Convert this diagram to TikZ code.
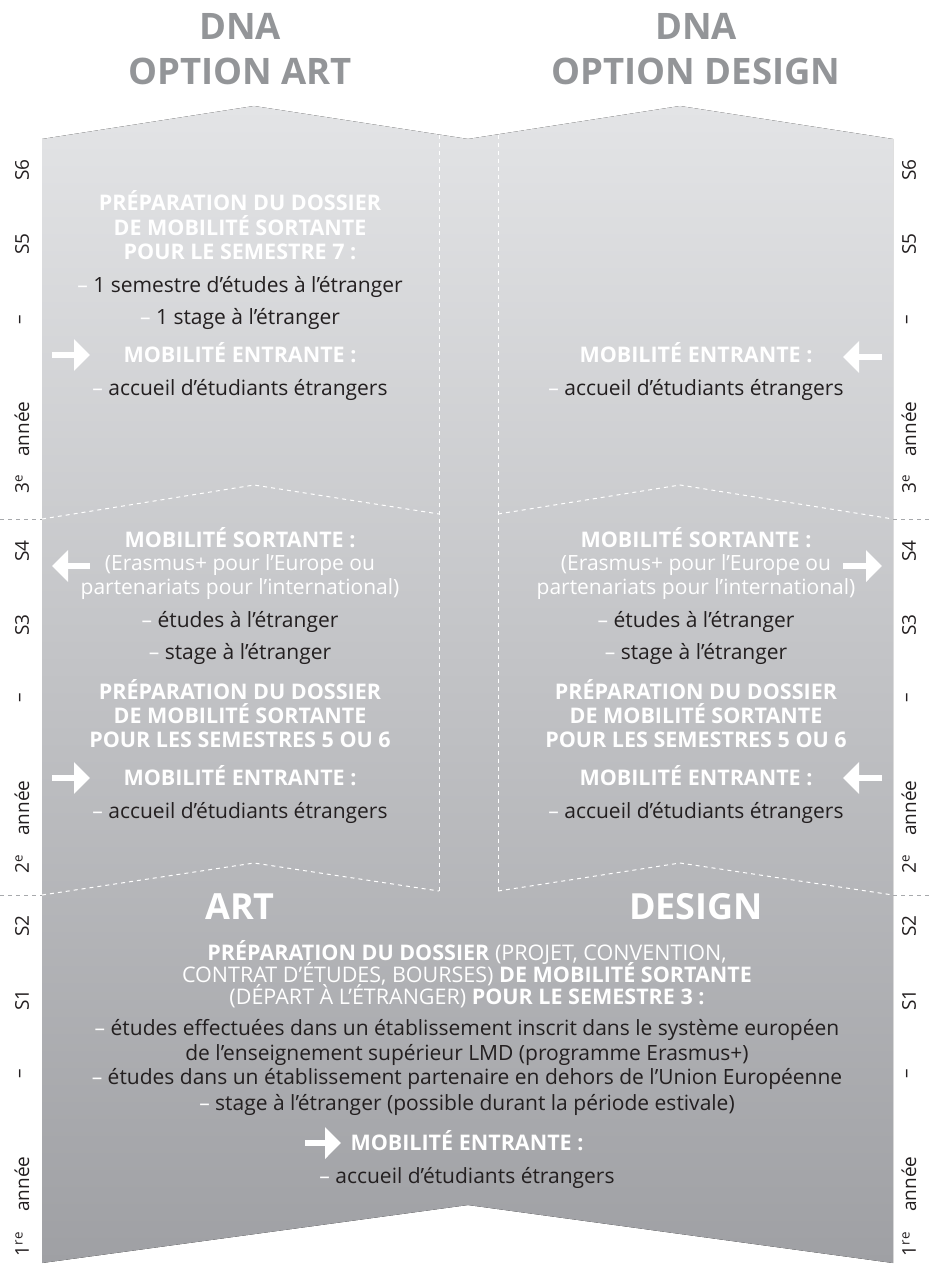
\documentclass[tikz,border=0pt]{standalone}
\usepackage{fontspec}
\setmainfont{Open Sans}
\usetikzlibrary{arrows.meta}
\definecolor{titlegray}{HTML}{939598}
\definecolor{ink}{HTML}{231F20}
\definecolor{paneltop}{HTML}{E3E4E6}
\definecolor{panelbot}{HTML}{9FA0A4}
\definecolor{axisdash}{HTML}{A7A9AC}
\newcommand{\wdash}{\textcolor{white}{–}}
\tikzset{
 dnatitle/.style={font=\fontsize{36.5}{40}\selectfont\bfseries, text=titlegray, anchor=base, inner sep=0pt},
 bigwhite/.style={font=\fontsize{36}{40}\selectfont\bfseries, text=white, anchor=base, inner sep=0pt},
 headtxt/.style={font=\fontsize{21.5}{24}\selectfont\bfseries, text=white, anchor=base, inner sep=0pt},
 mixtxt/.style={font=\fontsize{21.5}{24}\selectfont, text=white, anchor=base, inner sep=0pt},
 wtext/.style={font=\fontsize{21}{24}\selectfont, text=white, anchor=base, inner sep=0pt},
 bodytxt/.style={font=\fontsize{21}{24}\selectfont, text=ink, anchor=base, inner sep=0pt},
 axislbl/.style={font=\fontsize{19}{20}\selectfont, text=ink, rotate=90, inner sep=0pt},
 wdashed/.style={draw=white, line width=1pt, dash pattern=on 4pt off 4pt},
 gdashed/.style={draw=axisdash, line width=1pt, dash pattern=on 4pt off 4pt},
 warrow/.style={draw=white, line width=6.5pt, -{Triangle[length=16pt,width=31pt]}},
}
\begin{document}
\begin{tikzpicture}[x=1pt,y=-1pt]
\useasboundingbox (0,0) rectangle (929,1268);
% panel
\fill[top color=paneltop, bottom color=panelbot] (42,139) -- (254,106) -- (468,139) -- (680,106) -- (893,139) -- (893,1263) -- (468,1205) -- (42,1263) -- cycle;
% dashed separators
\draw[wdashed] (439,135) -- (439,891);
\draw[wdashed] (498,135) -- (498,891);
\draw[wdashed] (42,519) -- (254,485) -- (439,514);
\draw[wdashed] (498,514) -- (680,485) -- (893,519);
\draw[wdashed] (42,895) -- (254,863) -- (439,891);
\draw[wdashed] (498,891) -- (680,863) -- (893,895);
\draw[gdashed] (0,519) -- (42,519);
\draw[gdashed] (893,519) -- (929,519);
\draw[gdashed] (0,895) -- (42,895);
\draw[gdashed] (893,895) -- (929,895);
% titles
\node[dnatitle] (t1a) at (240,40) {DNA};
\node[dnatitle] (t1b) at (240,85) {OPTION ART};
\node[dnatitle] (t2a) at (696,40) {DNA};
\node[dnatitle] (t2b) at (696,85) {OPTION DESIGN};
% axis labels
\foreach \side/\xx in {L/22,R/909}{
 \node[axislbl] (\side s6) at (\xx,170) {S6};
 \node[axislbl] (\side s5) at (\xx,244) {S5};
 \node[axislbl] (\side d3) at (\xx,320) {–};
 \node[axislbl] (\side y3) at (\xx,429) {année};
 \node[axislbl] (\side n3) at (\xx,484) {3\textsuperscript{e}};
 \node[axislbl] (\side s4) at (\xx,551) {S4};
 \node[axislbl] (\side s3) at (\xx,625) {S3};
 \node[axislbl] (\side d2) at (\xx,698) {–};
 \node[axislbl] (\side y2) at (\xx,808) {année};
 \node[axislbl] (\side n2) at (\xx,864) {2\textsuperscript{e}};
 \node[axislbl] (\side s2) at (\xx,926) {S2};
 \node[axislbl] (\side s1) at (\xx,1000) {S1};
 \node[axislbl] (\side d1) at (\xx,1074) {–};
 \node[axislbl] (\side y1) at (\xx,1184) {année};
 \node[axislbl] (\side n1) at (\xx,1244) {1\textsuperscript{re}};
}
% ---- 3e annee, art
\node[headtxt] (a3h1) at (240,211) {PRÉPARATION DU DOSSIER};
\node[headtxt] (a3h2) at (240,235) {DE MOBILITÉ SORTANTE};
\node[headtxt] (a3h3) at (240,259) {POUR LE SEMESTRE 7 :};
\node[bodytxt] (a3b1) at (240,292) {\wdash\ 1 semestre d’études à l’étranger};
\node[bodytxt] (a3b2) at (240,324) {\wdash\ 1 stage à l’étranger};
\node[headtxt] (a3e) at (240,362) {MOBILITÉ ENTRANTE :};
\node[bodytxt] (a3a) at (240,395) {\wdash\ accueil d’étudiants étrangers};
\coordinate (a3p) at (52,355); \coordinate (a3q) at (90,355);
\draw[warrow] (a3p) -- (a3q);
% ---- 3e annee, design
\node[headtxt] (d3e) at (696,362) {MOBILITÉ ENTRANTE :};
\node[bodytxt] (d3a) at (696,395) {\wdash\ accueil d’étudiants étrangers};
\coordinate (d3p) at (882,357); \coordinate (d3q) at (843,357);
\draw[warrow] (d3p) -- (d3q);
% ---- 2e annee
\foreach \c/\cx in {a/240,d/696}{
 \node[headtxt] (\c2s) at (\cx,547) {MOBILITÉ SORTANTE :};
 \node[wtext] (\c2w1) at (\cx,570) {(Erasmus+ pour l’Europe ou};
 \node[wtext] (\c2w2) at (\cx,594) {partenariats pour l’international)};
 \node[bodytxt] (\c2b1) at (\cx,627) {\wdash\ études à l’étranger};
 \node[bodytxt] (\c2b2) at (\cx,659) {\wdash\ stage à l’étranger};
 \node[headtxt] (\c2h1) at (\cx,699) {PRÉPARATION DU DOSSIER};
 \node[headtxt] (\c2h2) at (\cx,723) {DE MOBILITÉ SORTANTE};
 \node[headtxt] (\c2h3) at (\cx,747) {POUR LES SEMESTRES 5 OU 6};
 \node[headtxt] (\c2e) at (\cx,785) {MOBILITÉ ENTRANTE :};
 \node[bodytxt] (\c2a) at (\cx,818) {\wdash\ accueil d’étudiants étrangers};
}
\coordinate (a2p) at (90,566); \coordinate (a2q) at (52,566);
\draw[warrow] (a2p) -- (a2q);
\coordinate (a2r) at (52,778); \coordinate (a2s) at (90,778);
\draw[warrow] (a2r) -- (a2s);
\coordinate (d2p) at (843,566); \coordinate (d2q) at (882,566);
\draw[warrow] (d2p) -- (d2q);
\coordinate (d2r) at (882,778); \coordinate (d2s) at (843,778);
\draw[warrow] (d2r) -- (d2s);
% ---- 1re annee
\node[bigwhite] (art) at (240,919) {ART};
\node[bigwhite] (design) at (696,919) {DESIGN};
\node[mixtxt] (p1) at (467,960) {\textbf{PRÉPARATION DU DOSSIER} (PROJET, CONVENTION,};
\node[mixtxt] (p2) at (467,982) {CONTRAT D’ÉTUDES, BOURSES) \textbf{DE MOBILITÉ SORTANTE}};
\node[mixtxt] (p3) at (467,1004) {(DÉPART À L’ÉTRANGER) \textbf{POUR LE SEMESTRE 3 :}};
\node[bodytxt] (q1) at (467,1035) {\wdash\ études effectuées dans un établissement inscrit dans le système européen};
\node[bodytxt] (q2) at (467,1060) {de l’enseignement supérieur LMD (programme Erasmus+)};
\node[bodytxt] (q3) at (467,1084) {\wdash\ études dans un établissement partenaire en dehors de l’Union Européenne};
\node[bodytxt] (q4) at (467,1110) {\wdash\ stage à l’étranger (possible durant la période estivale)};
\node[headtxt] (e1) at (467,1150) {MOBILITÉ ENTRANTE :};
\node[bodytxt] (e1a) at (467,1183) {\wdash\ accueil d’étudiants étrangers};
\coordinate (e1p) at (305,1143); \coordinate (e1q) at (341,1143);
\draw[warrow] (e1p) -- (e1q);
\end{tikzpicture}
\end{document}
